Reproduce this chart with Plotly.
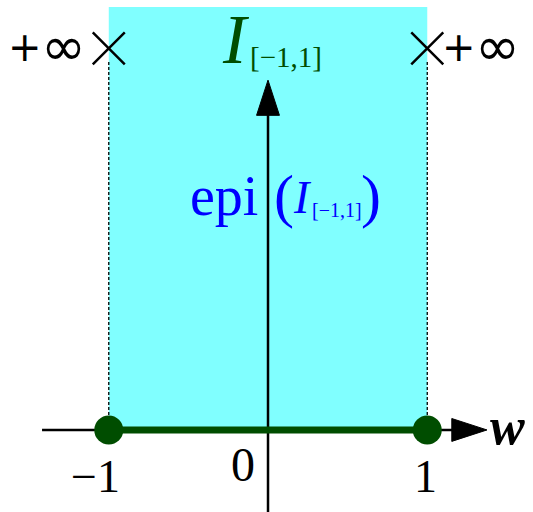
import plotly.graph_objects as go

# interval endpoints of the indicator function's domain
domain = [-1, 1]
tick_vals = [-1, 0, 1]
tick_text = ["\u22121", "0", "1"]
inf_level = 2.40          # height where the "+inf" crosses are drawn
top_level = 2.66          # top of the shaded epigraph

SERIF = "Liberation Serif"
GREEN = "#004d00"
BLUE = "#0000ff"

fig = go.Figure()

# shaded epigraph
fig.add_shape(type="rect", x0=domain[0], x1=domain[1], y0=0, y1=top_level,
              fillcolor="#80ffff", line_width=0, layer="below")

# dashed guides from the crosses down to the axis
for xv in domain:
    fig.add_trace(go.Scatter(x=[xv, xv], y=[0, inf_level - 0.08], mode="lines",
                             line=dict(color="black", width=1.3, dash="3px,2px"),
                             hoverinfo="skip", showlegend=False))

# axes with arrow heads (drawn under the function)
arrow = dict(symbol="arrow", size=[0, 37], angleref="previous", color="black",
             opacity=1, line=dict(color="black", width=1))
fig.add_trace(go.Scatter(x=[-1.419, 1.375], y=[0, 0], mode="lines+markers",
                         line=dict(color="black", width=2.5), marker=arrow,
                         hoverinfo="skip", showlegend=False))
fig.add_trace(go.Scatter(x=[0, 0], y=[-0.6, 2.2], mode="lines+markers",
                         line=dict(color="black", width=2.5), marker=arrow,
                         hoverinfo="skip", showlegend=False))

# indicator function: zero on the interval
fig.add_trace(go.Scatter(x=domain, y=[0, 0], mode="lines+markers",
                         line=dict(color=GREEN, width=7),
                         marker=dict(color=GREEN, size=29),
                         hoverinfo="skip", showlegend=False))

# crosses marking +infinity outside the interval
fig.add_trace(go.Scatter(x=domain, y=[inf_level, inf_level], mode="markers",
                         marker=dict(symbol="x-thin", size=32,
                                     line=dict(color="black", width=2.5)),
                         hoverinfo="skip", showlegend=False))


def label(x, y, text, size, color="black", family=SERIF):
    fig.add_annotation(x=x, y=y, text=text, showarrow=False,
                       font=dict(family=family, size=size, color=color))


# tick labels
tick_pos = {-1: (-1.086, -0.29), 0: (-0.157, -0.215), 1: (0.992, -0.29)}
for v, t in zip(tick_vals, tick_text):
    px, py = tick_pos[v]
    label(px, py, t, 48 if v == 0 else 46)

label(1.501, 0.02, "<b><i>w</i></b>", 52)

# "+inf" labels beside the crosses
for plus_x, inf_x in [(-1.526, -1.287), (1.199, 1.438)]:
    label(plus_x, 2.41, "+", 40, family="DejaVu Sans")
    label(inf_x, 2.41, "\u221e", 54, family="DejaVu Sans")

# function name above the vertical axis
label(-0.201, 2.457, "<i>I</i>", 70, GREEN)
label(0.113, 2.346, "[\u22121,1]", 29, GREEN)

# epigraph label
label(-0.276, 1.471, "epi", 56, BLUE)
label(0.100, 1.47, "(", 60, BLUE)
label(0.214, 1.46, "<i>I</i>", 46, BLUE)
label(0.436, 1.386, "[\u22121,1]", 20, BLUE)
label(0.647, 1.47, ")", 60, BLUE)

fig.update_layout(
    width=533, height=512, margin=dict(l=0, r=0, t=0, b=0),
    plot_bgcolor="white", paper_bgcolor="white",
    xaxis=dict(range=[-1.683, 1.664], visible=False, fixedrange=True),
    yaxis=dict(range=[-0.516, 2.704], visible=False, fixedrange=True),
)

fig.write_html("out.html")
